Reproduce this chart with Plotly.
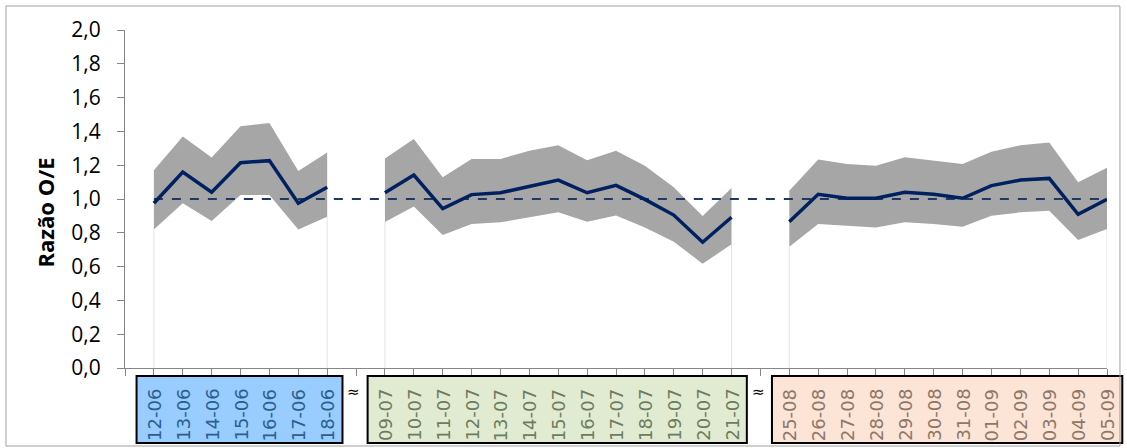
import plotly.graph_objects as go

# ---- data ----
june_labels = ["12-06", "13-06", "14-06", "15-06", "16-06", "17-06", "18-06"]
june_ratio = [0.975, 1.16, 1.04, 1.215, 1.227, 0.975, 1.07]
june_upper = [1.17, 1.37, 1.245, 1.43, 1.45, 1.165, 1.275]
june_lower = [0.82, 0.975, 0.87, 1.024, 1.024, 0.82, 0.895]

july_labels = ["09-07", "10-07", "11-07", "12-07", "13-07", "14-07", "15-07",
               "16-07", "17-07", "18-07", "19-07", "20-07", "21-07"]
july_ratio = [1.037, 1.142, 0.943, 1.026, 1.037, 1.077, 1.112,
              1.037, 1.081, 0.998, 0.905, 0.744, 0.892]
july_upper = [1.239, 1.355, 1.128, 1.237, 1.237, 1.286, 1.318,
              1.229, 1.286, 1.197, 1.069, 0.90, 1.065]
july_lower = [0.864, 0.955, 0.787, 0.852, 0.862, 0.892, 0.921,
              0.866, 0.903, 0.832, 0.747, 0.617, 0.732]

aug_labels = ["25-08", "26-08", "27-08", "28-08", "29-08", "30-08",
              "31-08", "01-09", "02-09", "03-09", "04-09", "05-09"]
aug_ratio = [0.866, 1.028, 1.004, 1.004, 1.04, 1.028,
             1.004, 1.079, 1.112, 1.122, 0.909, 0.998]
aug_upper = [1.049, 1.234, 1.207, 1.197, 1.247, 1.227,
             1.207, 1.28, 1.318, 1.335, 1.099, 1.185]
aug_lower = [0.718, 0.852, 0.842, 0.832, 0.862, 0.852,
             0.836, 0.901, 0.921, 0.931, 0.757, 0.822]

reference_value = 1.0
gap_mark = "≈"

groups = [
    dict(labels=june_labels, ratio=june_ratio, upper=june_upper, lower=june_lower,
         fill="#99CCFF", text="#2A5F8F"),
    dict(labels=july_labels, ratio=july_ratio, upper=july_upper, lower=july_lower,
         fill="#E1EBD1", text="#6E7B5E"),
    dict(labels=aug_labels, ratio=aug_ratio, upper=aug_upper, lower=aug_lower,
         fill="#FCE4D6", text="#8C7768"),
]

# ---- positions on a category axis with one gap slot between groups ----
pos = 0
gap_positions = []
for gi, g in enumerate(groups):
    g["x"] = list(range(pos, pos + len(g["labels"])))
    pos += len(g["labels"])
    if gi < len(groups) - 1:
        gap_positions.append(pos)
        pos += 1
n_slots = pos
x_min, x_max = -1, n_slots - 1


def to_paper(v):
    return (v - x_min) / (x_max - x_min)


fig = go.Figure()

# light drop lines at group ends
for g in groups:
    for i in (0, -1):
        fig.add_trace(go.Scatter(x=[g["x"][i], g["x"][i]], y=[0, g["lower"][i]],
                                 mode="lines", line=dict(color="#E3E3E3", width=1),
                                 hoverinfo="skip", showlegend=False))

# confidence bands
for g in groups:
    fig.add_trace(go.Scatter(x=g["x"] + g["x"][::-1],
                             y=g["upper"] + g["lower"][::-1],
                             fill="toself", fillcolor="#A6A6A6",
                             mode="lines", line=dict(width=0, color="#A6A6A6"),
                             hoverinfo="skip", showlegend=False))

# reference line
fig.add_trace(go.Scatter(x=[groups[0]["x"][0], groups[-1]["x"][-1]],
                         y=[reference_value, reference_value], mode="lines",
                         line=dict(color="#1F3864", width=2, dash="dash"),
                         showlegend=False))

# main ratio line
xs, ys = [], []
for gi, g in enumerate(groups):
    xs += g["x"]
    ys += g["ratio"]
    if gi < len(groups) - 1:
        xs.append(gap_positions[gi])
        ys.append(None)
fig.add_trace(go.Scatter(x=xs, y=ys, mode="lines", connectgaps=False,
                         line=dict(color="#002060", width=3.5), showlegend=False))

shapes = []
annotations = []
for g in groups:
    shapes.append(dict(type="rect", xref="paper", yref="paper",
                       x0=to_paper(g["x"][0] - 0.6), x1=to_paper(g["x"][-1] + 0.53),
                       y0=-0.222, y1=-0.0237,
                       fillcolor=g["fill"], line=dict(color="#000000", width=2),
                       layer="above"))
    for x, lab in zip(g["x"], g["labels"]):
        annotations.append(dict(x=x, y=0, xref="x", yref="paper", text=lab,
                                textangle=-90, showarrow=False,
                                xanchor="center", yanchor="middle", yshift=-47,
                                font=dict(family="DejaVu Sans", size=18, color=g["text"])))
for gp in gap_positions:
    annotations.append(dict(x=gp - 0.08, y=0, xref="x", yref="paper", text=gap_mark,
                            showarrow=False, xanchor="center", yanchor="middle",
                            yshift=-24, font=dict(family="DejaVu Sans", size=15, color="#000000")))

annotations.append(dict(x=-0.0815, y=0.46, xref="paper", yref="paper",
                        text="<b>Razão O/E</b>", textangle=-90, showarrow=False,
                        xanchor="center", yanchor="middle",
                        font=dict(family="Open Sans", size=22, color="#000000")))

# outer chart border
shapes.append(dict(type="rect", xref="paper", yref="paper",
                   x0=-0.1212, x1=1.0132, y0=-0.2308, y1=1.071,
                   line=dict(color="#A0A0A0", width=1), fillcolor="rgba(0,0,0,0)"))

fig.update_layout(
    width=1127, height=448,
    margin=dict(l=125, r=20, t=30, b=80),
    paper_bgcolor="white", plot_bgcolor="white",
    separators=",.",
    shapes=shapes, annotations=annotations,
    xaxis=dict(range=[x_min, x_max], tickmode="array",
               tickvals=list(range(x_min, n_slots)), showticklabels=False,
               ticks="outside", ticklen=7, tickcolor="#868686",
               showline=True, linecolor="#868686", linewidth=1,
               showgrid=False, zeroline=False, fixedrange=True),
    yaxis=dict(range=[0, 2], tickmode="linear", tick0=0, dtick=0.2,
               tickformat=".1f", ticks="outside", ticklen=7, tickcolor="#868686",
               showline=True, linecolor="#868686", linewidth=1,
               showgrid=False, zeroline=False,
               tickfont=dict(family="Open Sans", size=21, color="#000000"),
               ticklabelstandoff=12),
)

fig.write_html("out.html")
